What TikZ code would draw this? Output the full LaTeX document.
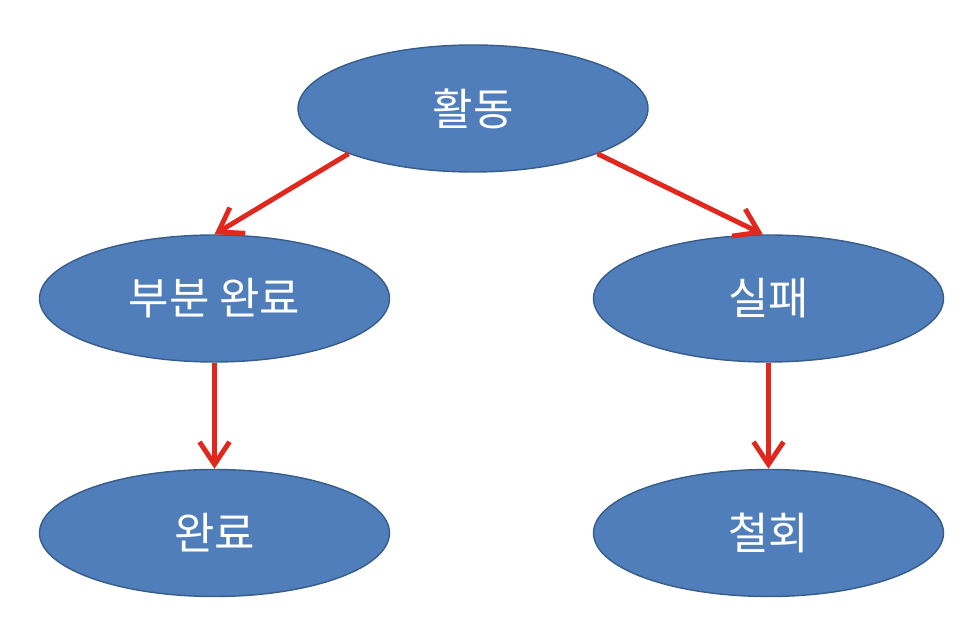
\documentclass[tikz,border=0pt]{standalone}
\usepackage{fontspec}
\newfontfamily\krfont{Noto Sans CJK KR}
\usetikzlibrary{shapes.geometric,arrows.meta}
\definecolor{ovalfill}{HTML}{4F7EBA}
\definecolor{ovaledge}{HTML}{385D8A}
\definecolor{arrowred}{HTML}{E0281E}
\tikzset{
  oval/.style={ellipse,draw=ovaledge,line width=0.8pt,fill=ovalfill,
    minimum width=7cm,minimum height=2.54cm,inner sep=0pt,
    text=white,font=\krfont\fontsize{25}{30}\selectfont},
  redarrow/.style={draw=arrowred,line width=2.8pt,
    -{Straight Barb[length=0.45cm,width=0.6cm,line width=2.8pt]}}
}
\begin{document}
\begin{tikzpicture}
%page size
\useasboundingbox (0,0) rectangle (19.44,12.36);
%ovals
\node[oval] (act) at (9.46,10.19) {활동};
\node[oval] (part) at (4.29,6.39) {부분 완료};
\node[oval] (fail) at (15.37,6.39) {실패};
\node[oval] (done) at (4.29,1.70) {완료};
\node[oval] (retract) at (15.37,1.70) {철회};
%arrows
\draw[redarrow] (act.200) -- (part.north);
\draw[redarrow] (act.340) -- (fail.95);
\draw[redarrow] (part.south) -- (done.north);
\draw[redarrow] (fail.south) -- (retract.north);
\end{tikzpicture}
\end{document}
